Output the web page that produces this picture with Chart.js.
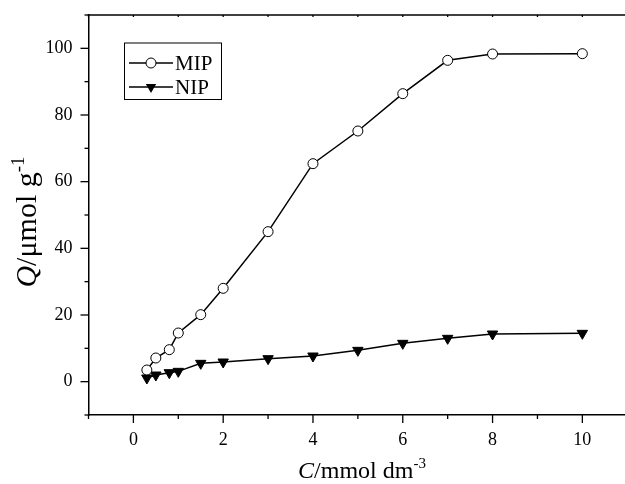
<!DOCTYPE html>
<html lang="en">
<head>
<meta charset="UTF-8">
<title>Q vs C</title>
<script src="https://cdn.jsdelivr.net/npm/chart.js"></script>
<style>
    html, body { margin: 0; padding: 0; background: #fff; }
    #wrap { width: 625px; height: 484px; position: relative; }
</style>
</head>
<body>
<div id="wrap"><canvas id="grafico"></canvas></div>

<script>
    // dados
    const concentrations = [0.3, 0.5, 0.8, 1, 1.5, 2, 3, 4, 5, 6, 7, 8, 10];
    const mipValues = [3.5, 7.1, 9.6, 14.6, 20.1, 28, 45, 65.4, 75.2, 86.4, 96.4, 98.3, 98.4];
    const nipValues = [1.1, 2.0, 2.7, 3.1, 5.5, 5.9, 6.9, 7.7, 9.4, 11.5, 13.0, 14.3, 14.5];
    const seriesNames = ['MIP', 'NIP'];
    const xTickValues = [-1, 0, 1, 2, 3, 4, 5, 6, 7, 8, 9, 10];
    const xTickLabels = [0, 2, 4, 6, 8, 10];
    const yTickValues = [-10, 0, 10, 20, 30, 40, 50, 60, 70, 80, 90, 100, 110];
    const yTickLabels = [0, 20, 40, 60, 80, 100];

    const serif = '"Liberation Serif", "Times New Roman", serif';

    function pares(ys) {
        return concentrations.map((c, i) => ({ x: c, y: ys[i] }));
    }

    function tracar(ctx, x1, y1, x2, y2) {
        ctx.beginPath();
        ctx.moveTo(x1, y1);
        ctx.lineTo(x2, y2);
        ctx.stroke();
    }

    function marcador(ctx, estilo, x, y, r) {
        ctx.beginPath();
        if (estilo === 'circle') {
            ctx.arc(x, y, r, 0, Math.PI * 2);
            ctx.fillStyle = '#fff';
            ctx.fill();
            ctx.lineWidth = 1;
            ctx.stroke();
        } else {
            // triangulo para baixo
            for (let k = 0; k < 3; k++) {
                const ang = Math.PI + k * 2 * Math.PI / 3;
                const px = x + Math.sin(ang) * r, py = y - Math.cos(ang) * r;
                if (k === 0) ctx.moveTo(px, py); else ctx.lineTo(px, py);
            }
            ctx.closePath();
            ctx.fillStyle = '#000';
            ctx.fill();
        }
    }

    function textoRico(ctx, partes, x, y) {
        let cx = x;
        partes.forEach(p => {
            ctx.font = p.font;
            ctx.fillText(p.text, cx, y + (p.dy || 0));
            cx += ctx.measureText(p.text).width;
        });
    }

    function larguraRica(ctx, partes) {
        let w = 0;
        partes.forEach(p => { ctx.font = p.font; w += ctx.measureText(p.text).width; });
        return w;
    }

    // ticks, moldura superior, titulos dos eixos e legenda
    const extras = {
        id: 'extras',
        afterDraw(chart) {
            const ctx = chart.ctx, a = chart.chartArea;
            const xs = chart.scales.x, ys = chart.scales.y;
            ctx.save();
            ctx.strokeStyle = '#000';
            ctx.fillStyle = '#000';

            ctx.lineWidth = 1.5;
            tracar(ctx, a.left - 0.75, a.top, a.right, a.top);

            ctx.lineWidth = 1.3;
            xTickValues.forEach(v => {
                const px = xs.getPixelForValue(v);
                const len = xTickLabels.includes(v) ? 8 : 4;
                tracar(ctx, px, a.bottom, px, a.bottom + len);
                tracar(ctx, px, a.top, px, a.top + 2);
            });
            yTickValues.forEach(v => {
                const py = ys.getPixelForValue(v);
                const len = yTickLabels.includes(v) ? 8 : 4;
                tracar(ctx, a.left, py, a.left - len, py);
            });

            // titulo eixo x
            ctx.textBaseline = 'alphabetic';
            ctx.textAlign = 'left';
            const tx = [
                { text: 'C', font: 'italic 24px ' + serif },
                { text: '/mmol dm', font: '24px ' + serif },
                { text: '-3', font: '15px ' + serif, dy: -10 }
            ];
            const wx = larguraRica(ctx, tx);
            textoRico(ctx, tx, 362 - wx / 2, 478);

            // titulo eixo y
            const ty = [
                { text: 'Q', font: 'italic 30px ' + serif },
                { text: '/\u03bcmol g', font: '30px ' + serif },
                { text: '-1', font: '19px ' + serif, dy: -12 }
            ];
            const wy = larguraRica(ctx, ty);
            ctx.save();
            ctx.translate(36, 222);
            ctx.rotate(-Math.PI / 2);
            textoRico(ctx, ty, -wy / 2, 0);
            ctx.restore();

            // legenda
            ctx.lineWidth = 1;
            ctx.strokeRect(124.5, 43, 97, 56.5);
            chart.data.datasets.forEach((ds, i) => {
                const ly = 63 + i * 24;
                ctx.strokeStyle = '#000';
                ctx.lineWidth = 1.5;
                tracar(ctx, 129, ly, 173, ly);
                marcador(ctx, ds.pointStyle, 151, ly, ds.pointRadius);
                ctx.fillStyle = '#000';
                ctx.font = '21px ' + serif;
                ctx.textBaseline = 'middle';
                ctx.fillText(ds.label, 175, ly + 1);
            });
            ctx.restore();
        }
    };

    const config = {
        type: 'line',
        data: {
            datasets: [
                {
                    label: seriesNames[0],
                    data: pares(mipValues),
                    borderColor: '#000',
                    borderWidth: 1.5,
                    pointStyle: 'circle',
                    pointRadius: 5,
                    pointBorderWidth: 1,
                    pointBackgroundColor: '#fff',
                    pointBorderColor: '#000',
                    tension: 0
                },
                {
                    label: seriesNames[1],
                    data: pares(nipValues),
                    borderColor: '#000',
                    borderWidth: 1.5,
                    pointStyle: 'triangle',
                    rotation: 180,
                    pointRadius: 6,
                    pointBorderWidth: 1,
                    pointBackgroundColor: '#000',
                    pointBorderColor: '#000',
                    tension: 0
                }
            ]
        },
        options: {
            responsive: true,
            maintainAspectRatio: false,
            animation: false,
            layout: { autoPadding: false, padding: { top: 15, right: 0, left: 0, bottom: 0 } },
            plugins: {
                legend: { display: false },
                tooltip: { enabled: false }
            },
            scales: {
                x: {
                    type: 'linear',
                    min: -1,
                    max: 10.95,
                    afterBuildTicks: s => { s.ticks = xTickValues.map(v => ({ value: v })); },
                    // sem espaco extra para os rotulos nas pontas
                    afterFit: s => { s.height = 69; s.paddingLeft = 0; s.paddingRight = 0; },
                    grid: { display: false, drawTicks: false },
                    border: { display: true, color: '#000', width: 1.5 },
                    ticks: {
                        padding: 14,
                        color: '#000',
                        font: { family: serif, size: 18 },
                        maxRotation: 0,
                        autoSkip: false,
                        callback: v => xTickLabels.includes(v) ? String(v) : ''
                    }
                },
                y: {
                    min: -10,
                    max: 110,
                    afterBuildTicks: s => { s.ticks = yTickValues.map(v => ({ value: v })); },
                    afterFit: s => { s.width = 88.5; s.paddingTop = 0; s.paddingBottom = 0; },
                    grid: { display: false, drawTicks: false },
                    border: { display: true, color: '#000', width: 1.5 },
                    ticks: {
                        padding: 16,
                        color: '#000',
                        font: { family: serif, size: 18 },
                        autoSkip: false,
                        callback: v => yTickLabels.includes(v) ? String(v) : ''
                    }
                }
            }
        },
        plugins: [extras]
    };

    new Chart(document.getElementById('grafico'), config);
</script>
</body>
</html>
